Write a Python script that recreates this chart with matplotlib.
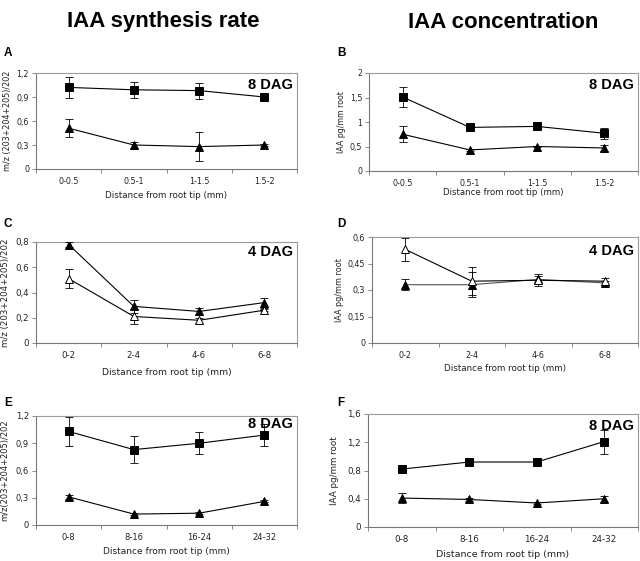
import matplotlib
matplotlib.use('Agg')
import matplotlib.pyplot as plt

# ---------------- data ----------------
cats_AB = ['0-0.5', '0.5-1', '1-1.5', '1.5-2']
cats_CD = ['0-2', '2-4', '4-6', '6-8']
cats_EF = ['0-8', '8-16', '16-24', '24-32']

A_sq = [1.02, 0.99, 0.98, 0.90]
A_sq_err = [0.13, 0.10, 0.10, 0.01]
A_tri = [0.51, 0.30, 0.28, 0.30]
A_tri_err = [0.11, 0.04, 0.18, 0.01]

B_sq = [1.51, 0.89, 0.91, 0.77]
B_sq_err = [0.21, 0.02, 0.07, 0.11]
B_tri = [0.75, 0.43, 0.50, 0.47]
B_tri_err = [0.16, 0.02, 0.02, 0.07]

C_tri = [0.78, 0.29, 0.25, 0.32]
C_tri_err = [0.02, 0.05, 0.03, 0.04]
C_open = [0.51, 0.21, 0.18, 0.26]
C_open_err = [0.075, 0.06, 0.02, 0.01]

D_tri = [0.33, 0.33, 0.36, 0.34]
D_tri_err = [0.03, 0.07, 0.02, 0.01]
D_open = [0.53, 0.35, 0.355, 0.35]
D_open_err = [0.065, 0.08, 0.035, 0.02]

E_sq = [1.03, 0.83, 0.90, 0.99]
E_sq_err = [0.16, 0.15, 0.12, 0.12]
E_tri = [0.31, 0.12, 0.13, 0.26]
E_tri_err = [0.02, 0.01, 0.01, 0.01]

F_sq = [0.82, 0.92, 0.92, 1.21]
F_sq_err = [0.02, 0.01, 0.01, 0.17]
F_tri = [0.41, 0.39, 0.34, 0.40]
F_tri_err = [0.07, 0.02, 0.01, 0.04]

yt_A = [0, 0.3, 0.6, 0.9, 1.2]
yt_B = [0, 0.5, 1, 1.5, 2]
yt_C = [0, 0.2, 0.4, 0.6, 0.8]
yt_D = [0, 0.15, 0.3, 0.45, 0.6]
yt_E = [0, 0.3, 0.6, 0.9, 1.2]
yt_F = [0, 0.4, 0.8, 1.2, 1.6]

ylab_rate = 'm/z (203+204+205)/202'
ylab_rate_E = 'm/z(203+204+205)/202'
ylab_conc = 'IAA pg/mm root'
xlab = 'Distance from root tip (mm)'

# ---------------- figure ----------------
W, H = 640, 561
fig = plt.figure(figsize=(W / 100, H / 100), dpi=100)
fig.patch.set_facecolor('white')


def px_axes(left, top, right, bottom):
    return fig.add_axes([left / W, 1 - bottom / H, (right - left) / W, (bottom - top) / H])


def fmt(v):
    return ('%g' % v).replace('.', ',')


def panel(ax, cats, series, yticks, ylabel, dag, dag_y, ylab_x, xlab_y, fs):
    x = list(range(len(cats)))
    for vals, errs, marker, face, lcolor in series:
        ax.errorbar(x, vals, yerr=errs, fmt='none', ecolor='black', elinewidth=0.6,
                    capsize=3.2, capthick=0.6, zorder=3)
        ax.plot(x, vals, color=lcolor, lw=0.8, zorder=4)
        ax.plot(x, vals, linestyle='none', marker=marker, markersize=5.2,
                markerfacecolor=face, markeredgecolor='black', markeredgewidth=0.7, zorder=5)
    ax.set_xlim(-0.5, len(cats) - 0.5)
    ax.set_ylim(yticks[0], yticks[-1])
    ax.set_yticks(yticks)
    ax.set_yticklabels([fmt(v) for v in yticks])
    ax.set_xticks(x)
    ax.set_xticklabels(cats)
    ax.set_xticks([i - 0.5 for i in range(len(cats) + 1)], minor=True)
    ax.tick_params(axis='x', which='major', length=0, pad=6, labelsize=fs, colors='#222222')
    ax.tick_params(axis='x', which='minor', length=3, width=0.6, color='#777777')
    ax.tick_params(axis='y', which='major', length=3, width=0.6, color='#777777',
                   labelsize=fs, labelcolor='#222222', pad=2)
    for s in ['top', 'right']:
        ax.spines[s].set_color('#9a9a9a')
        ax.spines[s].set_linewidth(0.8)
    for s in ['left', 'bottom']:
        ax.spines[s].set_color('#777777')
        ax.spines[s].set_linewidth(0.8)
    ax.set_ylabel(ylabel, fontsize=fs, color='#222222')
    ax.yaxis.set_label_coords(ylab_x, 0.5)
    ax.set_xlabel(xlab, fontsize=fs + 0.5, color='#222222')
    ax.xaxis.set_label_coords(0.5, xlab_y)
    ax.text(0.985, dag_y, dag, transform=ax.transAxes, ha='right', va='center',
            fontsize=10.5, fontweight='bold', family='Liberation Sans')


fam_bold = dict(family='Liberation Sans', fontweight='bold')
fig.text(163 / W, 1 - 22 / H, 'IAA synthesis rate', ha='center', va='center', fontsize=16, **fam_bold)
fig.text(503 / W, 1 - 22 / H, 'IAA concentration', ha='center', va='center', fontsize=16, **fam_bold)

for lt, (xx, yy) in zip('ABCDEF', [(8, 53), (341, 53), (8, 224), (341, 224), (8, 403), (341, 403)]):
    fig.text(xx / W, 1 - yy / H, lt, ha='center', va='center', fontsize=8.5, **fam_bold)

axA = px_axes(36, 73, 297, 169)
panel(axA, cats_AB, [(A_sq, A_sq_err, 's', 'black', 'black'),
                     (A_tri, A_tri_err, '^', 'black', 'black')],
      yt_A, ylab_rate, '8 DAG', 0.87, -0.092, -0.23, 5.8)

axB = px_axes(369, 73, 638, 171)
panel(axB, cats_AB, [(B_sq, B_sq_err, 's', 'black', 'black'),
                     (B_tri, B_tri_err, '^', 'black', 'black')],
      yt_B, ylab_conc, '8 DAG', 0.88, -0.085, -0.175, 5.7)

axC = px_axes(36, 242, 297, 343)
panel(axC, cats_CD, [(C_tri, C_tri_err, '^', 'black', 'black'),
                     (C_open, C_open_err, '^', 'white', 'black')],
      yt_C, ylab_rate, '4 DAG', 0.90, -0.10, -0.245, 6.2)

axD = px_axes(372, 237, 638, 343)
panel(axD, cats_CD, [(D_tri, D_tri_err, '^', 'black', '#555555'),
                     (D_open, D_open_err, '^', 'white', 'black')],
      yt_D, ylab_conc, '4 DAG', 0.87, -0.105, -0.20, 5.8)

axE = px_axes(36, 416, 297, 525)
panel(axE, cats_EF, [(E_sq, E_sq_err, 's', 'black', 'black'),
                     (E_tri, E_tri_err, '^', 'black', 'black')],
      yt_E, ylab_rate_E, '8 DAG', 0.93, -0.103, -0.20, 6.0)

axF = px_axes(368, 414, 638, 527)
panel(axF, cats_EF, [(F_sq, F_sq_err, 's', 'black', 'black'),
                     (F_tri, F_tri_err, '^', 'black', 'black')],
      yt_F, ylab_conc, '8 DAG', 0.89, -0.107, -0.205, 6.3)

fig.savefig('out.png', dpi=100, facecolor='white')
